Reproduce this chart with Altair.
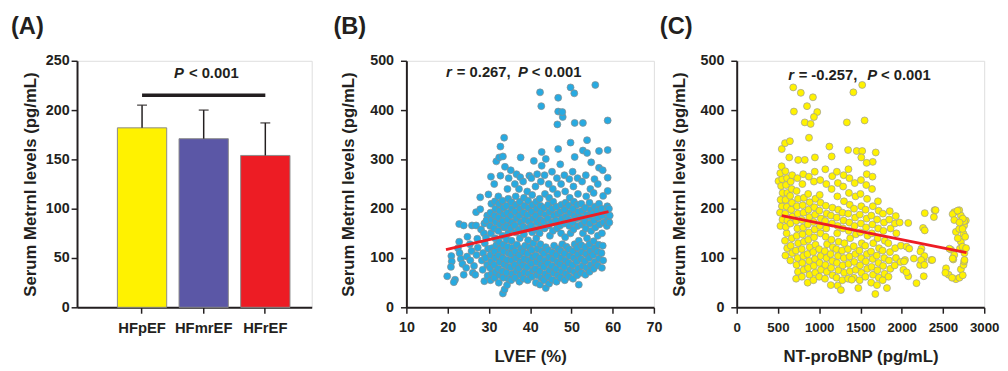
import altair as alt
import pandas as pd

FONT = "Liberation Sans"
INK = "#231F20"

# ---------------- Panel A data ----------------
groups = ["HFpEF", "HFmrEF", "HFrEF"]
means = [182, 171, 154]
sds = [23, 29, 33]
bar_colors = ["#FFF200", "#5B57A6", "#ED1C24"]
sig_y = 215
sig_text_y = 238

# ---------------- Panel B data (LVEF %, Metrnl pg/mL) ----------------
b_points = [
    (19.9, 63), (21.8, 56), (21.5, 51), (20.9, 104), (21.0, 93), (20.8, 82), (22.8, 169), (23.9, 166),
    (22.8, 133), (22.5, 120), (22.9, 110), (23.2, 98), (23.6, 88), (24.8, 143), (24.7, 103), (24.5, 80),
    (23.9, 66), (25.9, 166), (25.4, 128), (25.8, 114), (25.5, 95), (26.1, 70), (26.9, 166), (26.9, 193),
    (26.7, 66), (26.4, 84), (27.0, 106), (27.3, 121), (27.2, 139), (27.9, 199), (27.9, 223), (28.1, 158),
    (28.3, 95), (28.5, 76), (28.8, 150), (28.9, 170), (28.9, 53), (28.6, 110), (29.0, 130), (29.9, 229),
    (29.6, 186), (29.4, 176), (29.3, 141), (29.2, 100), (29.6, 86), (29.7, 64), (29.8, 119),
    (30.4, 55), (30.7, 68), (30.3, 80), (30.6, 93), (30.4, 106), (30.8, 120), (30.5, 150), (30.3, 165),
    (30.7, 178), (30.4, 192), (30.6, 210), (30.5, 265),
    (31.4, 60), (31.7, 72), (31.3, 86), (31.6, 100), (31.4, 113), (31.8, 126), (31.5, 140), (31.3, 160),
    (31.7, 173), (31.4, 186), (31.6, 200), (31.5, 215), (31.3, 250), (31.8, 296),
    (32.4, 50), (32.7, 65), (32.3, 78), (32.6, 92), (32.4, 105), (32.8, 118), (32.5, 132), (32.3, 155),
    (32.7, 168), (32.4, 182), (32.6, 196), (32.5, 210), (32.3, 225), (32.8, 267), (32.5, 304), (32.8, 326),
    (33.4, 28), (33.8, 36), (33.5, 60), (33.3, 73), (33.7, 87), (33.4, 100), (33.6, 113), (33.5, 127),
    (33.3, 145), (33.7, 162), (33.4, 175), (33.6, 188), (33.5, 202), (33.3, 216), (33.9, 285), (33.4, 306),
    (33.7, 344),
    (34.4, 45), (34.7, 58), (34.3, 70), (34.6, 83), (34.4, 96), (34.8, 110), (34.5, 123), (34.3, 137),
    (34.7, 150), (34.4, 165), (34.6, 178), (34.5, 192), (34.3, 206), (34.7, 220), (34.5, 240), (34.8, 262),
    (35.4, 55), (35.7, 68), (35.3, 81), (35.6, 95), (35.4, 108), (35.8, 121), (35.5, 135), (35.3, 160),
    (35.7, 172), (35.4, 186), (35.6, 200), (35.5, 213), (35.3, 278),
    (36.4, 60), (36.7, 73), (36.3, 86), (36.6, 100), (36.4, 113), (36.8, 127), (36.5, 152), (36.3, 166),
    (36.7, 180), (36.4, 194), (36.6, 208), (36.5, 225), (36.3, 250), (36.7, 270),
    (37.4, 52), (37.7, 66), (37.3, 79), (37.6, 92), (37.4, 106), (37.8, 119), (37.5, 140), (37.3, 158),
    (37.7, 172), (37.4, 186), (37.6, 200), (37.5, 214), (37.3, 240), (37.6, 264), (37.7, 304),
    (38.4, 58), (38.7, 71), (38.3, 85), (38.6, 98), (38.4, 112), (38.8, 125), (38.5, 148), (38.3, 164),
    (38.7, 178), (38.4, 192), (38.6, 206), (38.5, 222), (38.3, 255),
    (39.4, 55), (39.7, 68), (39.3, 82), (39.6, 95), (39.4, 109), (39.8, 122), (39.5, 136), (39.3, 160),
    (39.7, 174), (39.4, 188), (39.6, 202), (39.5, 216), (39.3, 235), (39.8, 267),
    (40.4, 62), (40.7, 75), (40.3, 89), (40.6, 102), (40.4, 116), (40.8, 130), (40.5, 152), (40.3, 166),
    (40.7, 180), (40.4, 194), (40.6, 208), (40.5, 228), (40.3, 262), (40.9, 297),
    (41.4, 50), (41.7, 65), (41.3, 78), (41.6, 92), (41.4, 105), (41.8, 119), (41.5, 140), (41.3, 158),
    (41.7, 172), (41.4, 186), (41.6, 200), (41.5, 214), (41.3, 245), (41.7, 270),
    (42.4, 46), (42.7, 60), (42.3, 73), (42.6, 87), (42.4, 100), (42.8, 114), (42.5, 128), (42.3, 150),
    (42.7, 164), (42.4, 178), (42.6, 192), (42.5, 206), (42.3, 220), (42.6, 255), (42.8, 287), (42.8, 315),
    (42.7, 408), (42.4, 436),
    (43.8, 39), (43.4, 55), (43.7, 68), (43.3, 82), (43.6, 95), (43.4, 109), (43.8, 122), (43.5, 160),
    (43.3, 174), (43.7, 188), (43.4, 202), (43.6, 230), (43.5, 268), (43.8, 301),
    (44.6, 48), (44.4, 62), (44.7, 75), (44.3, 89), (44.6, 102), (44.4, 116), (44.8, 145), (44.5, 166),
    (44.3, 180), (44.7, 194), (44.4, 208), (44.6, 222), (44.5, 250),
    (45.4, 56), (45.7, 70), (45.3, 84), (45.6, 98), (45.4, 111), (45.8, 125), (45.5, 155), (45.3, 172),
    (45.7, 186), (45.4, 200), (45.6, 214), (45.5, 240), (45.3, 275),
    (46.4, 52), (46.7, 65), (46.3, 78), (46.6, 92), (46.4, 106), (46.8, 119), (46.5, 160), (46.3, 176),
    (46.7, 190), (46.4, 204), (46.6, 230), (46.5, 262), (46.8, 321), (46.6, 371), (46.8, 397), (46.8, 425),
    (47.4, 60), (47.7, 73), (47.3, 87), (47.6, 100), (47.4, 114), (47.8, 128), (47.5, 150), (47.3, 166),
    (47.7, 180), (47.4, 194), (47.6, 208), (47.5, 250), (47.3, 290), (47.9, 386), (47.8, 396),
    (48.4, 55), (48.7, 68), (48.3, 82), (48.6, 95), (48.4, 109), (48.8, 123), (48.5, 142), (48.3, 170),
    (48.7, 184), (48.4, 198), (48.6, 212), (48.5, 235), (48.3, 268),
    (49.4, 62), (49.7, 76), (49.3, 90), (49.6, 104), (49.4, 118), (49.8, 150), (49.5, 165), (49.3, 178),
    (49.7, 192), (49.4, 206), (49.6, 222), (49.5, 260), (49.8, 334), (49.8, 446),
    (50.4, 58), (50.7, 72), (50.3, 86), (50.6, 100), (50.4, 114), (50.8, 128), (50.5, 158), (50.3, 172),
    (50.7, 186), (50.4, 200), (50.6, 214), (50.5, 245), (50.3, 275), (50.8, 305), (50.8, 374), (50.7, 434),
    (51.8, 46), (51.4, 65), (51.7, 79), (51.3, 93), (51.6, 107), (51.4, 121), (51.8, 135), (51.5, 165),
    (51.3, 180), (51.7, 194), (51.4, 208), (51.6, 230), (51.5, 262),
    (52.4, 70), (52.7, 84), (52.3, 98), (52.6, 112), (52.4, 126), (52.8, 150), (52.5, 168), (52.3, 182),
    (52.7, 196), (52.4, 210), (52.6, 255), (52.8, 318), (52.8, 374),
    (53.4, 66), (53.7, 80), (53.3, 94), (53.6, 108), (53.4, 122), (53.8, 140), (53.5, 160), (53.3, 174),
    (53.7, 188), (53.4, 202), (53.6, 225), (53.5, 268), (53.8, 313), (53.8, 339),
    (54.4, 72), (54.7, 86), (54.3, 100), (54.6, 114), (54.4, 128), (54.8, 155), (54.5, 170), (54.3, 184),
    (54.7, 198), (54.4, 212), (54.6, 240), (54.8, 294),
    (55.4, 78), (55.7, 92), (55.3, 106), (55.6, 120), (55.4, 134), (55.8, 162), (55.5, 176), (55.3, 190),
    (55.7, 204), (55.4, 232), (55.6, 260), (55.8, 451),
    (56.4, 85), (56.7, 99), (56.3, 113), (56.6, 127), (56.4, 145), (56.8, 168), (56.5, 182), (56.3, 196),
    (56.7, 210), (56.4, 250), (56.7, 283), (56.7, 317),
    (57.4, 80), (57.7, 95), (57.3, 110), (57.6, 125), (57.4, 150), (57.8, 172), (57.5, 186), (57.3, 200),
    (57.7, 226), (57.6, 278),
    (58.6, 165), (58.8, 178), (58.5, 192), (58.7, 205), (58.8, 236), (58.8, 263), (58.8, 319), (58.8, 379),
    (59.2, 172), (59.3, 186), (59.1, 200),
]
b_fit_x = [19.6, 59.0]
b_fit_y = [117, 194]

# ---------------- Panel C data (NT-proBNP pg/mL, Metrnl pg/mL) ----------------
c_points = [
    (546, 321), (586, 333), (645, 337), (685, 446), (777, 435), (693, 397), (852, 408), (924, 426),
    (976, 396), (936, 386), (825, 375), (896, 372), (876, 344), (745, 299), (825, 299), (948, 304),
    (637, 304), (1123, 326), (1151, 306), (1335, 375), (1350, 319), (1414, 436), (1521, 451), (1550, 379),
    (1454, 317), (1521, 317), (1510, 304), (1685, 314), (1649, 295), (1574, 293), (506, 256), (1680, 27),
    (1821, 39), (1223, 44), (1263, 35), (1474, 39),
    (530, 165), (555, 178), (525, 192), (548, 205), (532, 218), (556, 232), (538, 246), (552, 260),
    (528, 272), (545, 286),
    (590, 105), (612, 120), (585, 135), (605, 150), (595, 163), (615, 176), (588, 190), (608, 204),
    (592, 218), (614, 232), (598, 248), (610, 262), (590, 276),
    (650, 95), (672, 110), (655, 125), (668, 140), (652, 170), (675, 184), (660, 198), (670, 212),
    (648, 226), (665, 240), (655, 255), (672, 268),
    (720, 58), (742, 72), (725, 86), (738, 100), (718, 115), (745, 130), (728, 145), (735, 160),
    (722, 175), (740, 190), (730, 205), (744, 220), (726, 236), (735, 262),
    (790, 62), (812, 76), (795, 90), (808, 104), (788, 118), (815, 133), (798, 148), (805, 162),
    (792, 177), (810, 192), (800, 207), (814, 222), (796, 250), (806, 270),
    (860, 50), (882, 66), (865, 80), (878, 94), (858, 108), (885, 122), (868, 137), (875, 152),
    (862, 168), (880, 183), (870, 198), (884, 213), (866, 230), (875, 265),
    (930, 55), (952, 70), (935, 84), (948, 98), (928, 112), (955, 127), (938, 142), (945, 158),
    (932, 173), (950, 188), (940, 203), (954, 220), (936, 255), (946, 275),
    (1000, 62), (1022, 76), (1005, 90), (1018, 104), (998, 118), (1015, 150), (1008, 165), (1020, 180),
    (1002, 196), (1016, 212), (1006, 228), (1012, 258),
    (1070, 58), (1092, 72), (1075, 86), (1088, 100), (1068, 114), (1095, 128), (1078, 143), (1085, 160),
    (1072, 175), (1090, 190), (1080, 206), (1086, 250), (1074, 280),
    (1140, 45), (1162, 65), (1145, 80), (1158, 94), (1138, 108), (1165, 122), (1148, 137), (1155, 170),
    (1142, 186), (1160, 202), (1150, 240), (1158, 266),
    (1210, 60), (1232, 75), (1215, 90), (1228, 104), (1208, 118), (1235, 133), (1218, 150), (1225, 165),
    (1212, 182), (1230, 198), (1220, 225), (1226, 252), (1214, 275),
    (1280, 55), (1302, 70), (1285, 85), (1298, 100), (1278, 115), (1305, 130), (1288, 160), (1295, 176),
    (1282, 192), (1300, 215), (1290, 245), (1296, 268),
    (1350, 58), (1372, 73), (1355, 88), (1368, 103), (1348, 118), (1375, 140), (1358, 155), (1365, 172),
    (1352, 190), (1370, 208), (1360, 232), (1366, 262), (1354, 280),
    (1420, 60), (1442, 76), (1425, 92), (1438, 108), (1418, 124), (1445, 148), (1428, 165), (1435, 182),
    (1422, 200), (1440, 225), (1430, 252), (1394, 56),
    (1490, 55), (1512, 70), (1495, 85), (1508, 100), (1488, 115), (1515, 130), (1498, 152), (1505, 170),
    (1492, 188), (1510, 205), (1500, 230), (1506, 258),
    (1560, 62), (1582, 78), (1565, 93), (1578, 108), (1558, 125), (1585, 145), (1568, 162), (1575, 180),
    (1562, 198), (1580, 220), (1570, 248), (1576, 270),
    (1630, 50), (1652, 66), (1635, 82), (1648, 98), (1628, 113), (1655, 130), (1638, 150), (1645, 168),
    (1632, 186), (1650, 205), (1640, 240), (1646, 265),
    (1700, 45), (1722, 60), (1705, 75), (1718, 90), (1698, 105), (1725, 120), (1708, 140), (1715, 160),
    (1702, 178), (1720, 196), (1712, 215),
    (1770, 55), (1792, 68), (1775, 84), (1788, 100), (1768, 115), (1795, 135), (1778, 155), (1785, 172),
    (1772, 190),
    (1840, 62), (1862, 78), (1845, 95), (1858, 112), (1838, 130), (1865, 160), (1848, 178), (1855, 195),
    (1915, 85), (1930, 100), (1920, 120), (1935, 150), (1918, 170), (1928, 185), (1985, 92), (1990, 125),
    (1975, 172),
    (2040, 96), (2020, 76), (2059, 123), (2147, 99), (2239, 119), (2259, 96), (2223, 86), (2358, 96),
    (2267, 63), (2398, 197), (2279, 191), (2259, 161), (2179, 49), (2079, 171), (2279, 156), (2410, 197),
    (2390, 183), (2091, 119), (2028, 93), (2227, 113), (2275, 104), (2235, 96), (2275, 86), (2370, 96),
    (2079, 63), (2059, 71),
    (2537, 79), (2569, 66), (2657, 57), (2717, 77), (2749, 86), (2757, 93), (2597, 117), (2637, 106),
    (2625, 97), (2761, 96), (2717, 133), (2705, 119), (2637, 193), (2697, 197), (2717, 186), (2757, 166),
    (2657, 153), (2697, 159), (2749, 149), (2777, 176), (2529, 70), (2617, 99), (2577, 119), (2737, 123),
    (2617, 189), (2677, 196), (2637, 177), (2757, 175), (2737, 159), (2769, 143), (2700, 60), (2740, 65),
    (2760, 110), (2740, 180), (2700, 172), (2680, 140), (2780, 120), (2610, 60),
]
c_fit_x = [546, 2785]
c_fit_y = [186, 111]

# annotation pieces: (text, italic, pixel dx from anchor)
b_note = [("r", True, 0), ("= 0.267,", False, 11), ("P", True, 73), ("< 0.001", False, 87)]
c_note = [("r", True, 0), ("= -0.257,", False, 10.5), ("P", True, 80), ("< 0.001", False, 94)]
a_note = [("P", True, -30), ("< 0.001", False, -15)]


# ---------------- helpers ----------------
def axis(values=None, title=None, label_pad=8, title_pad=14, title_size=17, **kw):
    opts = dict(
        grid=False, labelOverlap=False, labelFlush=False,
        domainColor=INK, domainWidth=2, tickColor=INK, tickWidth=1.5, tickSize=6,
        labelFont=FONT, labelFontSize=14.5, labelFontWeight="bold", labelColor=INK,
        labelPadding=label_pad,
        titleFont=FONT, titleFontSize=title_size, titleFontWeight="bold", titleColor=INK,
        titlePadding=title_pad,
    )
    if values is not None:
        opts["values"] = values
    if title is not None:
        opts["title"] = title
    opts.update(kw)
    return alt.Axis(**opts)


def panel_title(text, dx):
    return alt.TitleParams(
        text=text, anchor="start", frame="group", dx=dx, offset=14,
        font=FONT, fontSize=24, fontWeight="bold", color=INK,
    )


def annotation(pieces, xval, yval, xenc_type, scale_x, scale_y):
    layers = []
    for text, italic, dx in pieces:
        df = pd.DataFrame({"x": [xval], "y": [yval], "t": [text]})
        kw = dict(font=FONT, fontSize=15, fontWeight="bold", color=INK,
                  align="left", baseline="middle", dx=dx)
        if italic:
            kw["fontStyle"] = "italic"
        layers.append(alt.Chart(df).mark_text(**kw).encode(
            x=alt.X(f"x:{xenc_type}", scale=scale_x),
            y=alt.Y("y:Q", scale=scale_y),
            text="t:N"))
    return alt.layer(*layers)


# ---------------- Panel A ----------------
dfA = pd.DataFrame({
    "group": groups, "mean": means,
    "top": [m + s for m, s in zip(means, sds)], "color": bar_colors,
})
xscaleA = alt.Scale(domain=groups, paddingInner=0.2, paddingOuter=0.504, align=0.65)
yscaleA = alt.Scale(domain=[0, 250], nice=False)
xA = alt.X("group:N", scale=xscaleA, title=None,
           axis=axis(labelAngle=0, label_pad=8, bandPosition=0.5, labelFontSize=15))
yA = alt.Y("mean:Q", scale=yscaleA,
           axis=axis([0, 50, 100, 150, 200, 250], "Serum Metrnl levels (pg/mL)", label_pad=2, title_pad=6))

barsA = alt.Chart(dfA).mark_bar(stroke="#8A8A8A", strokeWidth=1).encode(
    x=xA, y=yA, color=alt.Color("color:N", scale=None))
errA = alt.Chart(dfA).mark_rule(color=INK, strokeWidth=1.5).encode(
    x=alt.X("group:N", scale=xscaleA), y=alt.Y("mean:Q", scale=yscaleA), y2="top:Q")
capA = alt.Chart(dfA).mark_tick(color=INK, thickness=1.5, size=10, orient="horizontal").encode(
    x=alt.X("group:N", scale=xscaleA), y=alt.Y("top:Q", scale=yscaleA))
dfSig = pd.DataFrame({"a": [groups[0]], "b": [groups[2]], "y": [sig_y]})
sigA = alt.Chart(dfSig).mark_rule(color=INK, strokeWidth=3.5).encode(
    x=alt.X("a:N", scale=xscaleA, bandPosition=0.5),
    x2=alt.X2("b:N", bandPosition=0.5),
    y=alt.Y("y:Q", scale=yscaleA))
txtA = annotation(a_note, groups[1], sig_text_y, "N", xscaleA, yscaleA)

chartA = alt.layer(barsA, errA, capA, sigA, txtA).properties(
    width=238, height=250, title=panel_title("(A)", -67))

# ---------------- Panel B ----------------
dfB = pd.DataFrame(b_points, columns=["lvef", "metrnl"])
xscaleB = alt.Scale(domain=[10, 70], nice=False)
yscaleB = alt.Scale(domain=[0, 500], nice=False)
ptsB = alt.Chart(dfB).mark_circle(size=50, color="#27AAE1", opacity=1,
                                  stroke="#8C8C8C", strokeWidth=0.7).encode(
    x=alt.X("lvef:Q", scale=xscaleB, axis=axis([10, 20, 30, 40, 50, 60, 70], "LVEF (%)")),
    y=alt.Y("metrnl:Q", scale=yscaleB,
            axis=axis([0, 100, 200, 300, 400, 500], "Serum Metrnl levels (pg/mL)", label_pad=7, title_pad=12)))
fitB = alt.Chart(pd.DataFrame({"x": b_fit_x, "y": b_fit_y})).mark_line(
    color="#ED1C24", strokeWidth=3).encode(x=alt.X("x:Q", scale=xscaleB), y=alt.Y("y:Q", scale=yscaleB))
txtB = annotation(b_note, 19.6, 478, "Q", xscaleB, yscaleB)
chartB = alt.layer(ptsB, fitB, txtB).properties(
    width=251, height=250, title=panel_title("(B)", -74))

# ---------------- Panel C ----------------
dfC = pd.DataFrame(c_points, columns=["bnp", "metrnl"])
xscaleC = alt.Scale(domain=[0, 3000], nice=False)
yscaleC = alt.Scale(domain=[0, 500], nice=False)
ptsC = alt.Chart(dfC).mark_circle(size=50, color="#FFF200", opacity=1,
                                  stroke="#9A9A9A", strokeWidth=0.7).encode(
    x=alt.X("bnp:Q", scale=xscaleC,
            axis=axis([0, 500, 1000, 1500, 2000, 2500, 3000], "NT-proBNP (pg/mL)",
                      format="d", labelFontSize=13.5)),
    y=alt.Y("metrnl:Q", scale=yscaleC,
            axis=axis([0, 100, 200, 300, 400, 500], "Serum Metrnl levels (pg/mL)", label_pad=7, title_pad=12)))
fitC = alt.Chart(pd.DataFrame({"x": c_fit_x, "y": c_fit_y})).mark_line(
    color="#ED1C24", strokeWidth=3).encode(x=alt.X("x:Q", scale=xscaleC), y=alt.Y("y:Q", scale=yscaleC))
txtC = annotation(c_note, 625, 471, "Q", xscaleC, yscaleC)
chartC = alt.layer(ptsC, fitC, txtC).properties(
    width=251, height=250, title=panel_title("(C)", -78))

chart = alt.hconcat(
    chartA,
    alt.hconcat(chartB, chartC, spacing=84, bounds="flush"),
    spacing=96, bounds="flush",
).properties(
    padding={"left": 2, "top": 4, "right": 0, "bottom": 0}
).configure_view(stroke=None).configure(background="white")

chart.save("out.html", embed_options={"renderer": "svg", "actions": False})
